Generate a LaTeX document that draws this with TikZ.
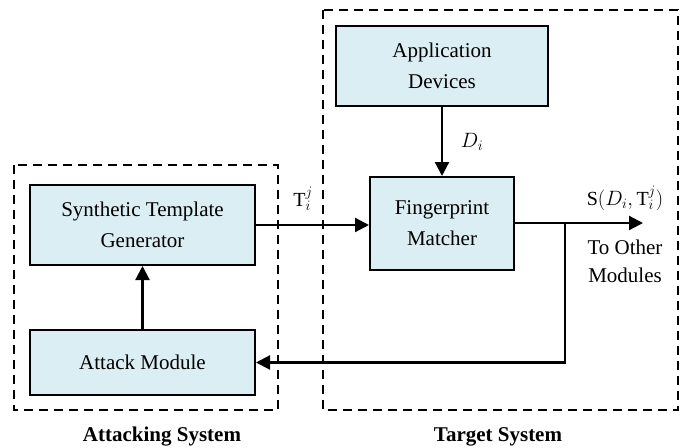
\documentclass[tikz,border=0pt]{standalone}
\usepackage{fontspec}
\setmainfont{Liberation Serif}
\usetikzlibrary{arrows.meta}
\definecolor{boxfill}{HTML}{DAEEF3}
\begin{document}
\begin{tikzpicture}[x=1pt,y=-1pt,
  blk/.style={draw=black, line width=2pt, fill=boxfill, align=center, font=\fontsize{21}{31}\selectfont, inner sep=0pt},
  grp/.style={draw=black, line width=2.2pt, dash pattern=on 9pt off 6pt},
  conn/.style={line width=2.2pt, -{Triangle[length=14pt,width=14pt]}},
  lbl/.style={font=\fontsize{20}{22}\selectfont, inner sep=0pt},
  ttl/.style={font=\bfseries\fontsize{21}{24}\selectfont, inner sep=0pt}]
\useasboundingbox (0,0) rectangle (685,447);
\draw[grp] (14,165) rectangle (278,410);
\draw[grp] (323,10) rectangle (678,410);
\node[blk, minimum width=225pt, minimum height=80pt] (stg) at (142.5,225) {Synthetic Template\\Generator};
\node[blk, minimum width=225pt, minimum height=65pt] (am) at (142.5,362.5) {Attack Module};
\node[blk, minimum width=212pt, minimum height=80pt] (ad) at (442,66) {Application\\Devices};
\node[blk, minimum width=144pt, minimum height=93pt] (fm) at (442,223.5) {Fingerprint\\Matcher};
\coordinate (out) at (643,223);
\coordinate (split) at (565,223);
\coordinate (back) at (565,362.5);
\draw[conn] (ad.south) -- (fm.north);
\draw[conn] (am.north) -- (stg.south);
\draw[conn] (stg.east) -- (stg.east -| fm.west);
\draw[conn] (fm.east |- out) -- (out);
\draw[conn] (split) -- (back) -- (am.east);
\node[lbl] (di) at (472,142) {$D_i$};
\node[lbl] (tij) at (303,199) {$\mathrm{T}_i^j$};
\node[lbl] (s) at (625,198) {$\mathrm{S}(D_i,\mathrm{T}_i^j)$};
\node[lbl, align=center, font=\fontsize{21}{28}\selectfont] (other) at (625,261) {To Other\\Modules};
\node[ttl] (as) at (162,437) {Attacking System};
\node[ttl] (ts) at (498,437) {Target System};
\end{tikzpicture}
\end{document}
